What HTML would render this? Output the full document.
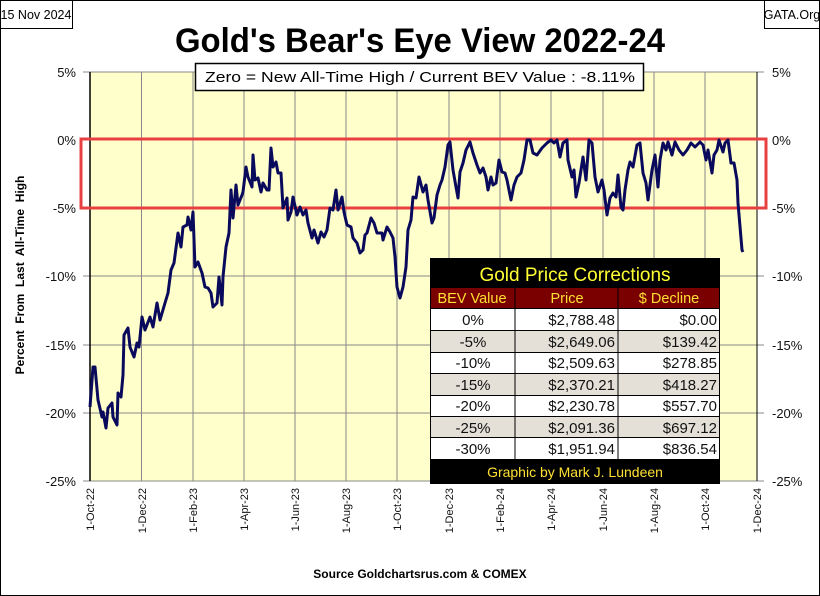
<!DOCTYPE html>
<html><head><meta charset="utf-8"><style>
html,body{margin:0;padding:0;background:#fff}
svg{display:block}
text{font-family:"Liberation Sans",sans-serif}
</style></head><body>
<svg width="820" height="596" viewBox="0 0 820 596" xmlns="http://www.w3.org/2000/svg">
<rect x="0.5" y="0.5" width="819" height="595" fill="#fff" stroke="#000"/>
<rect x="90" y="72" width="667" height="409" fill="#FFFFCC"/>
<g stroke="#888" stroke-width="1">
<line x1="90" y1="140" x2="757" y2="140"/><line x1="90" y1="208" x2="757" y2="208"/>
<line x1="90" y1="276" x2="757" y2="276"/><line x1="90" y1="345" x2="757" y2="345"/>
<line x1="90" y1="413" x2="757" y2="413"/>
<line x1="83" y1="72" x2="764" y2="72"/><line x1="83" y1="481" x2="764" y2="481"/>
<line x1="83" y1="140" x2="90" y2="140"/><line x1="83" y1="208" x2="90" y2="208"/><line x1="83" y1="276" x2="90" y2="276"/><line x1="83" y1="345" x2="90" y2="345"/><line x1="83" y1="413" x2="90" y2="413"/>
<line x1="757" y1="140" x2="764" y2="140"/><line x1="757" y1="208" x2="764" y2="208"/><line x1="757" y1="276" x2="764" y2="276"/><line x1="757" y1="345" x2="764" y2="345"/><line x1="757" y1="413" x2="764" y2="413"/>
<line x1="141.5" y1="72" x2="141.5" y2="481"/><line x1="193" y1="72" x2="193" y2="481"/><line x1="244" y1="72" x2="244" y2="481"/><line x1="295" y1="72" x2="295" y2="481"/><line x1="346" y1="72" x2="346" y2="481"/><line x1="397" y1="72" x2="397" y2="481"/><line x1="449" y1="72" x2="449" y2="481"/><line x1="500" y1="72" x2="500" y2="481"/><line x1="551" y1="72" x2="551" y2="481"/><line x1="603" y1="72" x2="603" y2="481"/><line x1="654" y1="72" x2="654" y2="481"/><line x1="705" y1="72" x2="705" y2="481"/>
</g>
<line x1="90" y1="72" x2="90" y2="481" stroke="#000" stroke-width="1.5"/>
<line x1="757" y1="72" x2="757" y2="481" stroke="#000" stroke-width="1"/>
<rect x="81" y="139" width="685" height="69" fill="none" stroke="#E84040" stroke-width="3"/>
<polyline fill="none" stroke="#0A0A5C" stroke-width="3" stroke-linejoin="round" points="90,407 93,367 95,367 98,400 102,417 103,412 106,428 108,408 112,403 113,417 117,425 118,393 121,397 123,375 124,335 128,328 130,347 134,357 137,343 139,347 142,317 145,330 150,317 153,327 157,303 160,320 165,303 168,293 171,270 174,263 178,233 181,247 183,227 187,225 188,217 191,230 193,212 195,267 198,262 202,273 205,287 208,288 211,293 213,307 217,303 219,277 222,305 223,277 226,247 229,233 231,190 233,218 236,185 238,205 242,195 243,192 246,167 248,177 252,187 253,155 255,180 258,178 261,192 263,183 267,190 269,190 271,148 273,167 276,162 278,173 281,173 283,208 287,198 288,220 291,212 293,197 297,215 300,207 303,215 306,210 308,223 312,238 314,230 318,243 321,232 324,237 327,230 330,208 333,210 336,190 338,210 342,197 344,212 347,225 351,227 353,238 357,243 360,253 363,250 365,235 367,233 371,218 374,223 377,233 382,233 383,240 387,227 390,232 393,238 395,257 397,287 400,298 403,287 406,267 408,230 411,220 413,197 416,198 419,177 423,192 426,185 428,200 432,223 434,218 437,195 440,185 442,180 445,167 448,145 450,142 453,170 456,187 458,198 460,172 463,163 466,150 470,142 473,153 477,165 480,173 483,168 486,177 488,190 491,177 493,185 496,183 499,160 502,172 505,173 507,180 511,200 514,185 517,177 521,173 524,160 527,140 530,140 533,153 537,155 542,148 547,143 551,140 554,143 557,140 560,157 563,143 567,140 568,160 572,177 574,170 576,197 579,183 583,157 586,180 589,140 592,143 595,177 598,192 602,180 604,190 607,215 610,198 613,193 616,197 618,175 621,207 623,210 625,190 628,170 630,162 633,167 637,145 640,143 643,173 646,183 648,200 652,170 655,155 658,187 660,160 663,143 666,150 668,142 672,155 675,142 679,150 683,155 687,150 691,143 695,147 700,142 703,145 706,160 708,150 712,173 714,155 717,150 719,140 723,152 725,143 728,140 731,163 734,163 737,180 738,203 742,250 743,252"/>
<g>
<rect x="430" y="258" width="290" height="226" fill="#000"/>
<text x="575" y="281" font-size="19" fill="#FFFF33" text-anchor="middle">Gold Price Corrections</text>
<rect x="431" y="288" width="288" height="20" fill="#7A0000"/>
<g fill="#FFE033" font-size="14.5" text-anchor="middle"><text x="472" y="303">BEV Value</text><text x="567" y="303">Price</text><text x="669" y="303">$ Decline</text></g>
<rect x="431" y="309" width="288" height="21" fill="#fff"/>
<rect x="431" y="331" width="288" height="21" fill="#E4E0D8"/>
<rect x="431" y="353" width="288" height="21" fill="#fff"/>
<rect x="431" y="374" width="288" height="21" fill="#E4E0D8"/>
<rect x="431" y="396" width="288" height="21" fill="#fff"/>
<rect x="431" y="417" width="288" height="21" fill="#E4E0D8"/>
<rect x="431" y="438" width="288" height="21" fill="#fff"/>
<g stroke="#000" stroke-width="1"><line x1="515" y1="288" x2="515" y2="459"/><line x1="618" y1="288" x2="618" y2="459"/>
<line x1="431" y1="330.5" x2="719" y2="330.5"/><line x1="431" y1="352.5" x2="719" y2="352.5"/><line x1="431" y1="373.5" x2="719" y2="373.5"/><line x1="431" y1="395.5" x2="719" y2="395.5"/><line x1="431" y1="416.5" x2="719" y2="416.5"/><line x1="431" y1="437.5" x2="719" y2="437.5"/></g>
<g font-size="15" fill="#111">
<g text-anchor="middle"><text x="473" y="325">0%</text><text x="473" y="347">-5%</text><text x="473" y="368">-10%</text><text x="473" y="390">-15%</text><text x="473" y="411">-20%</text><text x="473" y="433">-25%</text><text x="473" y="454">-30%</text></g>
<g text-anchor="end"><text x="615" y="325">$2,788.48</text><text x="615" y="347">$2,649.06</text><text x="615" y="368">$2,509.63</text><text x="615" y="390">$2,370.21</text><text x="615" y="411">$2,230.78</text><text x="615" y="433">$2,091.36</text><text x="615" y="454">$1,951.94</text>
<text x="717" y="325">$0.00</text><text x="717" y="347">$139.42</text><text x="717" y="368">$278.85</text><text x="717" y="390">$418.27</text><text x="717" y="411">$557.70</text><text x="717" y="433">$697.12</text><text x="717" y="454">$836.54</text></g>
</g>
<text x="575" y="477" font-size="14" fill="#FFE033" text-anchor="middle">Graphic by Mark J. Lundeen</text>
</g>
<g font-size="13" fill="#111">
<g text-anchor="end"><text x="76" y="77">5%</text><text x="76" y="145">0%</text><text x="76" y="213">-5%</text><text x="76" y="281">-10%</text><text x="76" y="350">-15%</text><text x="76" y="418">-20%</text><text x="76" y="486">-25%</text></g>
<g text-anchor="start"><text x="772" y="77">5%</text><text x="772" y="145">0%</text><text x="772" y="213">-5%</text><text x="772" y="281">-10%</text><text x="772" y="350">-15%</text><text x="772" y="418">-20%</text><text x="772" y="486">-25%</text></g>
</g>
<text transform="translate(24,275) rotate(-90)" font-size="12" font-weight="bold" text-anchor="middle" xml:space="preserve">Percent  From  Last  All-Time  High</text>
<g font-size="11" fill="#111" text-anchor="end">
<text transform="translate(94,488) rotate(-90)">1-Oct-22</text>
<text transform="translate(146,488) rotate(-90)">1-Dec-22</text>
<text transform="translate(197,488) rotate(-90)">1-Feb-23</text>
<text transform="translate(248,488) rotate(-90)">1-Apr-23</text>
<text transform="translate(299,488) rotate(-90)">1-Jun-23</text>
<text transform="translate(350,488) rotate(-90)">1-Aug-23</text>
<text transform="translate(401,488) rotate(-90)">1-Oct-23</text>
<text transform="translate(453,488) rotate(-90)">1-Dec-23</text>
<text transform="translate(504,488) rotate(-90)">1-Feb-24</text>
<text transform="translate(555,488) rotate(-90)">1-Apr-24</text>
<text transform="translate(607,488) rotate(-90)">1-Jun-24</text>
<text transform="translate(658,488) rotate(-90)">1-Aug-24</text>
<text transform="translate(709,488) rotate(-90)">1-Oct-24</text>
<text transform="translate(761,488) rotate(-90)">1-Dec-24</text>
</g>
<text x="420" y="578" font-size="12" font-weight="bold" text-anchor="middle">Source Goldchartsrus.com &amp; COMEX</text>
<rect x="0.5" y="0.5" width="72" height="28" fill="#fff" stroke="#000"/>
<text x="36" y="19" font-size="12.5" text-anchor="middle">15 Nov 2024</text>
<rect x="764.5" y="0.5" width="55" height="28" fill="#fff" stroke="#000"/>
<text x="792" y="19" font-size="12.5" text-anchor="middle">GATA.Org</text>
<text x="420" y="52" font-size="34" font-weight="bold" text-anchor="middle" textLength="490" lengthAdjust="spacingAndGlyphs">Gold's Bear's Eye View 2022-24</text>
<rect x="195.5" y="63.5" width="448" height="27" fill="#fff" stroke="#000" stroke-width="1.5"/>
<text x="420" y="82" font-size="14.5" text-anchor="middle" textLength="430" lengthAdjust="spacingAndGlyphs">Zero = New All-Time High / Current BEV Value : -8.11%</text>
</svg>
</body></html>
